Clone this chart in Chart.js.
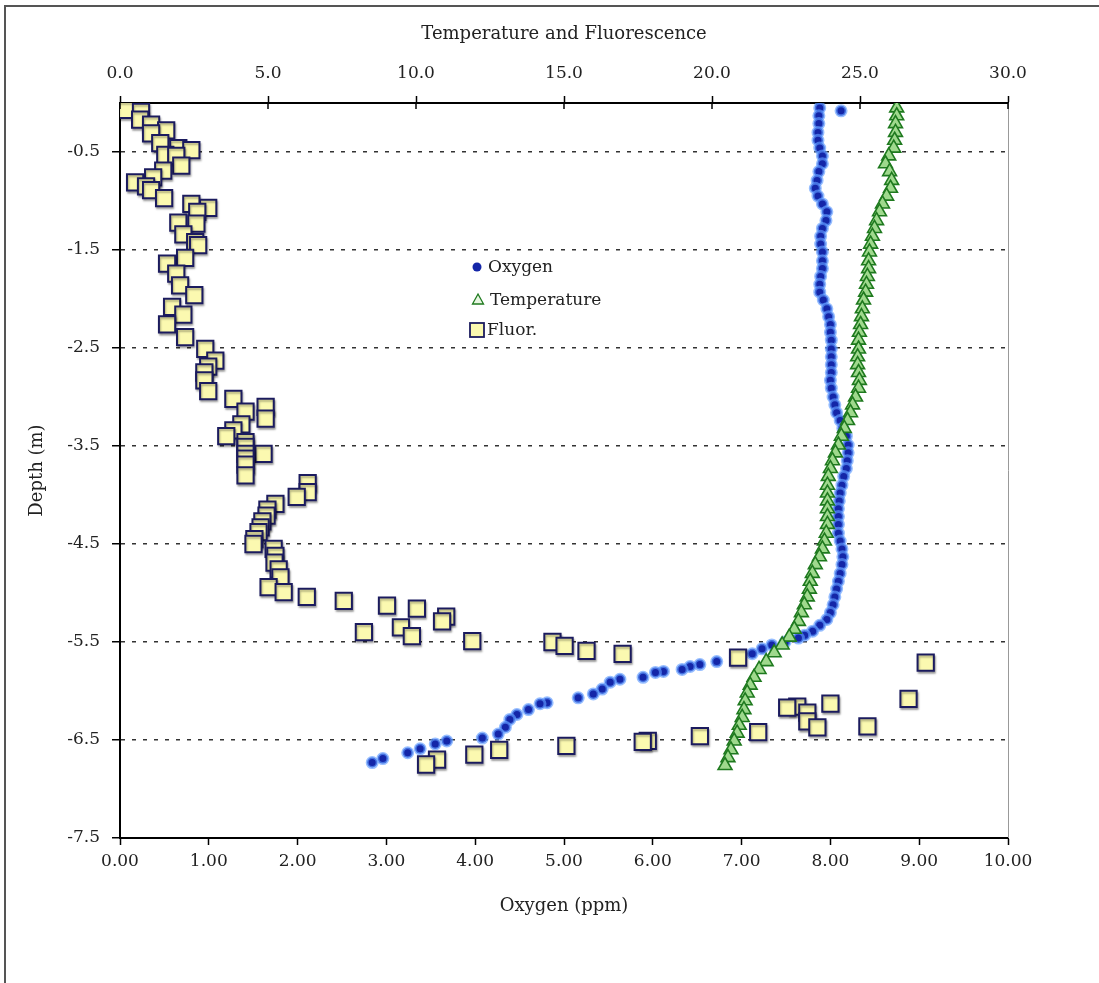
<!DOCTYPE html>
<html>
<head>
<meta charset="utf-8">
<script src="https://cdn.jsdelivr.net/npm/chart.js@4.4.1/dist/chart.umd.min.js"></script>
<style>
  body { margin: 0; background: #fff; }
  #frame {
    position: absolute; left: 4px; top: 5px; width: 1200px; height: 1100px;
    border-left: 2px solid #555; border-top: 2px solid #555;
  }
  canvas { position: absolute; left: 0; top: 0; }
</style>
</head>
<body>
<div id="frame"></div>
<canvas id="myChart" width="1099" height="983"></canvas>
<script>
// depth ticks shown on the left axis
const depthTicks = [-0.5, -1.5, -2.5, -3.5, -4.5, -5.5, -6.5, -7.5];

// [oxygen ppm, depth m]
const oxygenProfile = [
  [8.12, -0.08],
  [7.88, -0.05], [7.87, -0.13], [7.87, -0.21], [7.86, -0.30], [7.86, -0.38],
  [7.88, -0.46], [7.91, -0.54], [7.91, -0.62], [7.87, -0.70], [7.85, -0.79],
  [7.83, -0.87], [7.86, -0.95], [7.91, -1.03], [7.96, -1.11], [7.95, -1.20],
  [7.91, -1.28], [7.89, -1.36], [7.89, -1.44], [7.91, -1.52], [7.91, -1.61],
  [7.91, -1.69], [7.89, -1.77], [7.88, -1.85], [7.88, -1.93], [7.92, -2.01],
  [7.96, -2.10], [7.98, -2.18], [8.00, -2.26], [8.00, -2.34], [8.01, -2.42],
  [8.01, -2.51], [8.01, -2.59], [8.01, -2.67], [8.01, -2.75], [8.00, -2.83],
  [8.01, -2.91], [8.03, -3.00], [8.05, -3.08], [8.07, -3.16], [8.11, -3.24],
  [8.14, -3.32], [8.18, -3.40], [8.20, -3.49], [8.20, -3.57], [8.19, -3.65],
  [8.18, -3.73], [8.15, -3.81], [8.13, -3.90], [8.11, -3.98], [8.10, -4.06],
  [8.09, -4.14], [8.09, -4.22], [8.09, -4.30], [8.09, -4.39], [8.11, -4.47],
  [8.13, -4.55], [8.14, -4.63], [8.13, -4.71], [8.11, -4.80], [8.09, -4.88],
  [8.07, -4.96], [8.05, -5.04], [8.03, -5.12], [8.00, -5.20], [7.96, -5.27],
  [7.88, -5.33], [7.80, -5.39], [7.71, -5.43], [7.64, -5.46], [7.49, -5.50],
  [7.34, -5.53], [7.23, -5.57], [7.12, -5.62], [6.93, -5.66], [6.72, -5.70],
  [6.53, -5.73], [6.42, -5.75], [6.33, -5.78], [6.12, -5.80], [6.03, -5.81],
  [5.89, -5.86], [5.63, -5.88], [5.52, -5.91], [5.43, -5.98], [5.33, -6.03],
  [5.16, -6.07], [4.81, -6.12], [4.73, -6.13], [4.60, -6.19], [4.47, -6.24],
  [4.39, -6.29], [4.34, -6.37], [4.26, -6.44], [4.08, -6.48], [3.68, -6.51],
  [3.55, -6.54], [3.38, -6.59], [3.24, -6.63], [2.96, -6.69], [2.84, -6.73]
];

// [temperature C, depth m]
const temperatureProfile = [
  [26.24, -0.05], [26.24, -0.13], [26.20, -0.21], [26.20, -0.30], [26.17, -0.38],
  [26.14, -0.46], [25.97, -0.54], [25.86, -0.62], [26.00, -0.70], [26.07, -0.79],
  [26.03, -0.87], [25.90, -0.95], [25.76, -1.03], [25.66, -1.11], [25.56, -1.20],
  [25.49, -1.28], [25.42, -1.36], [25.36, -1.44], [25.32, -1.52], [25.29, -1.61],
  [25.29, -1.69], [25.25, -1.77], [25.22, -1.85], [25.19, -1.93], [25.12, -2.01],
  [25.08, -2.10], [25.05, -2.18], [25.02, -2.26], [24.98, -2.34], [24.95, -2.42],
  [24.95, -2.51], [24.92, -2.59], [24.92, -2.67], [24.95, -2.75], [24.98, -2.83],
  [24.95, -2.91], [24.85, -3.00], [24.75, -3.08], [24.68, -3.16], [24.58, -3.24],
  [24.47, -3.32], [24.37, -3.40], [24.27, -3.49], [24.17, -3.57], [24.07, -3.65],
  [24.00, -3.73], [23.93, -3.81], [23.90, -3.90], [23.90, -3.98], [23.90, -4.06],
  [23.90, -4.14], [23.90, -4.22], [23.90, -4.30], [23.86, -4.39], [23.80, -4.47],
  [23.73, -4.55], [23.63, -4.63], [23.49, -4.71], [23.39, -4.80], [23.32, -4.88],
  [23.29, -4.96], [23.22, -5.04], [23.12, -5.12], [23.02, -5.20], [22.92, -5.29],
  [22.78, -5.37], [22.61, -5.45], [22.37, -5.53], [22.10, -5.61], [21.83, -5.70],
  [21.59, -5.78], [21.42, -5.86], [21.29, -5.94], [21.19, -6.02], [21.12, -6.10],
  [21.08, -6.19], [21.02, -6.27], [20.92, -6.35], [20.85, -6.43], [20.75, -6.51],
  [20.64, -6.60], [20.54, -6.68], [20.44, -6.76]
];

// [fluorescence, depth m]
const fluorProfile = [
  [0.20, -0.07], [0.71, -0.09], [0.68, -0.17], [1.05, -0.22], [1.56, -0.28],
  [1.05, -0.31], [1.36, -0.41], [1.97, -0.46], [2.41, -0.48], [1.53, -0.53],
  [1.90, -0.54], [2.07, -0.64], [1.46, -0.69], [1.12, -0.76], [0.51, -0.81],
  [0.88, -0.85], [1.05, -0.89], [1.49, -0.97], [2.41, -1.03], [2.98, -1.07],
  [2.61, -1.11], [1.97, -1.22], [2.58, -1.23], [2.14, -1.34], [2.54, -1.42],
  [2.64, -1.45], [2.20, -1.58], [1.59, -1.64], [1.90, -1.74], [2.03, -1.86],
  [2.51, -1.96], [1.76, -2.08], [2.14, -2.16], [1.59, -2.26], [2.20, -2.39],
  [2.88, -2.51], [3.22, -2.63], [2.98, -2.69], [2.85, -2.75], [2.85, -2.83],
  [2.98, -2.94], [3.83, -3.02], [4.92, -3.10], [4.24, -3.15], [4.92, -3.22],
  [4.10, -3.28], [3.83, -3.34], [3.59, -3.40], [4.24, -3.46], [4.24, -3.51],
  [4.85, -3.58], [4.24, -3.58], [4.24, -3.63], [4.24, -3.69], [4.24, -3.80],
  [6.34, -3.88], [6.34, -3.97], [5.97, -4.02], [5.25, -4.09], [4.98, -4.15],
  [4.95, -4.21], [4.81, -4.27], [4.75, -4.33], [4.68, -4.38], [4.54, -4.45],
  [4.51, -4.50], [5.19, -4.55], [5.25, -4.62], [5.22, -4.69], [5.36, -4.76],
  [5.42, -4.84], [5.02, -4.94], [5.53, -4.99], [6.31, -5.04], [7.56, -5.08],
  [9.02, -5.13], [10.03, -5.16], [11.02, -5.24], [10.88, -5.29], [9.49, -5.35],
  [8.24, -5.40], [9.86, -5.44], [11.90, -5.49], [14.61, -5.50], [15.02, -5.54],
  [15.76, -5.59], [16.98, -5.62], [20.88, -5.66], [27.22, -5.71], [26.64, -6.08],
  [24.00, -6.13], [22.88, -6.16], [22.54, -6.17], [23.22, -6.22], [23.22, -6.31],
  [25.25, -6.36], [23.56, -6.37], [21.56, -6.42], [19.59, -6.46], [17.83, -6.51],
  [17.66, -6.52], [15.08, -6.56], [12.81, -6.60], [11.97, -6.65], [10.71, -6.70],
  [10.34, -6.75]
];

const FONT = "'DejaVu Serif', 'Liberation Serif', serif";
const TEXT = "#222";

const toPoints = (rows) => rows.map((r) => ({ x: r[0], y: r[1] }));

const oxygenStyle = { bg: "#1426a8", border: "rgba(95,155,255,0.65)" };
const tempStyle = { bg: "#9fd98d", border: "#1f7a1f" };
const fluorStyle = { bg: "#fbf9b0", border: "#1b1b5e" };

// legend, frame edge and tick crosses are drawn by hand
const extras = {
  id: "extras",
  beforeDatasetDraw(chart, args) {
    if (args.index === 2) {
      const ctx = chart.ctx;
      ctx.save();
      ctx.shadowColor = "rgba(0,0,0,0.3)";
      ctx.shadowOffsetX = 1;
      ctx.shadowOffsetY = 2;
      ctx.shadowBlur = 2;
    }
  },
  afterDatasetDraw(chart, args) {
    if (args.index === 2) chart.ctx.restore();
  },
  afterDraw(chart) {
    const ctx = chart.ctx;
    const a = chart.chartArea;
    ctx.save();
    // right edge of plot
    ctx.strokeStyle = "#999";
    ctx.lineWidth = 1;
    ctx.beginPath();
    ctx.moveTo(a.right + 0.5, a.top);
    ctx.lineTo(a.right + 0.5, a.bottom);
    ctx.stroke();

    // inner half of top ticks
    const top = chart.scales.x2;
    ctx.strokeStyle = "#000";
    ctx.lineWidth = 1.5;
    top.ticks.forEach((t) => {
      const x = top.getPixelForValue(t.value);
      ctx.beginPath();
      ctx.moveTo(x, a.top);
      ctx.lineTo(x, a.top + 6);
      ctx.stroke();
    });

    // legend
    const lx = a.left + 357;
    const ly = a.top + 164;
    ctx.font = "17px " + FONT;
    ctx.fillStyle = TEXT;
    ctx.textBaseline = "middle";

    ctx.beginPath();
    ctx.arc(lx, ly, 4.5, 0, Math.PI * 2);
    ctx.fillStyle = oxygenStyle.bg;
    ctx.fill();
    ctx.fillStyle = TEXT;
    ctx.fillText("Oxygen", lx + 11, ly + 1);

    const ty = ly + 33;
    ctx.beginPath();
    ctx.moveTo(lx + 1, ty - 6);
    ctx.lineTo(lx + 6.5, ty + 4);
    ctx.lineTo(lx - 4.5, ty + 4);
    ctx.closePath();
    ctx.fillStyle = "#e8f6e2";
    ctx.fill();
    ctx.strokeStyle = tempStyle.border;
    ctx.lineWidth = 1.3;
    ctx.stroke();
    ctx.fillStyle = TEXT;
    ctx.fillText("Temperature", lx + 13, ty + 1);

    const sy = ly + 63;
    ctx.fillStyle = fluorStyle.bg;
    ctx.fillRect(lx - 7, sy - 7, 14, 14);
    ctx.strokeStyle = fluorStyle.border;
    ctx.lineWidth = 1.8;
    ctx.strokeRect(lx - 7, sy - 7, 14, 14);
    ctx.fillStyle = TEXT;
    ctx.fillText("Fluor.", lx + 10, sy + 1);
    ctx.restore();
  }
};

const ctx = document.getElementById("myChart");
const myChart = new Chart(ctx, {
  type: "scatter",
  data: {
    datasets: [
      {
        label: "Oxygen",
        data: toPoints(oxygenProfile),
        xAxisID: "x",
        yAxisID: "y",
        order: 3,
        pointStyle: "circle",
        pointRadius: 5,
        backgroundColor: oxygenStyle.bg,
        borderColor: oxygenStyle.border,
        borderWidth: 3,
      },
      {
        label: "Temperature",
        data: toPoints(temperatureProfile),
        xAxisID: "x2",
        yAxisID: "y",
        order: 2,
        pointStyle: "triangle",
        pointRadius: 8,
        backgroundColor: tempStyle.bg,
        borderColor: tempStyle.border,
        borderWidth: 1.6,
      },
      {
        label: "Fluor.",
        data: toPoints(fluorProfile),
        xAxisID: "x2",
        yAxisID: "y",
        order: 1,
        pointStyle: "rect",
        pointRadius: 11.5,
        backgroundColor: fluorStyle.bg,
        borderColor: fluorStyle.border,
        borderWidth: 2,
      },
    ],
  },
  options: {
    responsive: false,
    animation: false,
    devicePixelRatio: 1,
    layout: { padding: { left: 0, top: 0, right: 91, bottom: 0 } },
    plugins: { legend: { display: false }, tooltip: { enabled: false } },
    scales: {
      x: {
        type: "linear",
        position: "bottom",
        min: 0,
        max: 10,
        afterFit: (s) => { s.height = 145; },
        ticks: {
          stepSize: 1,
          callback: (v) => v.toFixed(2),
          font: { family: FONT, size: 17 },
          color: TEXT,
          padding: 6,
          maxRotation: 0,
        },
        grid: { drawOnChartArea: false, tickLength: 7, tickColor: "#000", tickWidth: 1.5 },
        border: { color: "#000", width: 2 },
        title: {
          display: true,
          text: "Oxygen (ppm)",
          font: { family: FONT, size: 18 },
          color: TEXT,
          padding: { top: 0, bottom: 66 },
        },
      },
      x2: {
        type: "linear",
        position: "top",
        min: 0,
        max: 30,
        afterFit: (s) => { s.height = 103; },
        ticks: {
          stepSize: 5,
          callback: (v) => v.toFixed(1),
          font: { family: FONT, size: 17 },
          color: TEXT,
          padding: 12,
          maxRotation: 0,
        },
        grid: { drawOnChartArea: false, tickLength: 7, tickColor: "#000", tickWidth: 1.5 },
        border: { color: "#000", width: 2 },
        title: {
          display: true,
          text: "Temperature and Fluorescence",
          font: { family: FONT, size: 18 },
          color: TEXT,
          padding: { top: 24, bottom: 0 },
        },
      },
      y: {
        type: "linear",
        min: -7.5,
        max: 0,
        afterFit: (s) => { s.width = 120; },
        afterBuildTicks: (s) => { s.ticks = depthTicks.map((v) => ({ value: v })); },
        ticks: {
          callback: (v) => v.toFixed(1),
          font: { family: FONT, size: 17 },
          color: TEXT,
          padding: 12,
        },
        grid: {
          color: "#333",
          lineWidth: 1.5,
          tickLength: 8,
          tickColor: "#000",
          tickWidth: 1.5,
          tickBorderDash: [],
        },
        border: { color: "#000", width: 2, dash: [4, 7] },
        title: {
          display: true,
          text: "Depth (m)",
          font: { family: FONT, size: 18 },
          color: TEXT,
          padding: { top: 27, bottom: 0 },
        },
      },
    },
  },
  plugins: [extras],
});
</script>
</body>
</html>
